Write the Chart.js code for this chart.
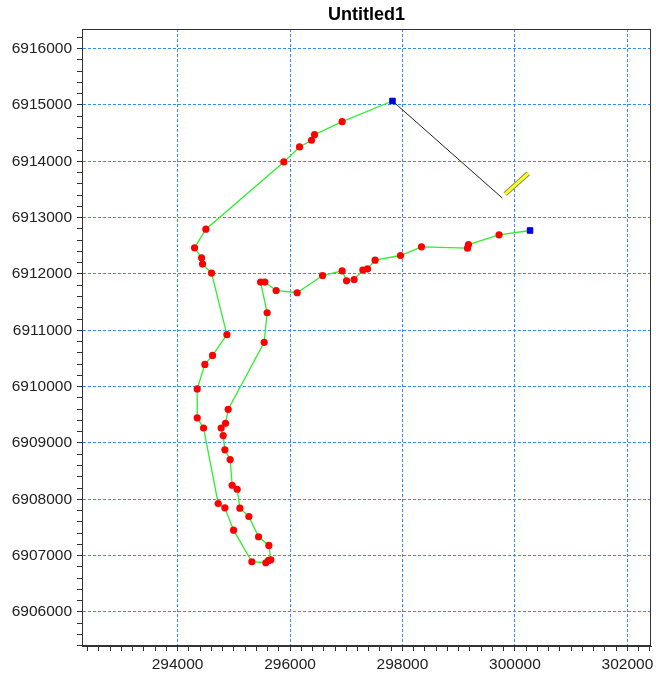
<!DOCTYPE html>
<html>
<head>
<meta charset="utf-8">
<script src="https://cdn.jsdelivr.net/npm/chart.js@4.4.0/dist/chart.umd.min.js"></script>
<style>
  html, body { margin: 0; padding: 0; background: #fff; }
  canvas { display: block; }
</style>
</head>
<body>
<canvas id="chart" width="656" height="673"></canvas>
<script>
// track (green line, red points, blue start/end)
const trackX = [
  297822, 296927, 296436, 296382, 296169, 295890, 294503, 294302, 294427, 294444,
  294604, 294877, 294622, 294485, 294349, 294349, 294462, 294722, 294841, 294996,
  295321, 295570, 295618, 295659, 295623, 295440, 295268, 295108, 295060, 294971,
  294935, 294841, 294811, 294775, 294853, 294900, 295540, 295593, 295476, 295552,
  295753, 296127, 296578, 296927, 297005, 297140, 297295, 297378, 297513, 297965,
  298338, 299156, 299174, 299718, 300269
];
const trackY = [
  6915071, 6914704, 6914473, 6914374, 6914255, 6913989, 6912796, 6912465, 6912287, 6912176,
  6912016, 6910922, 6910555, 6910395, 6909959, 6909444, 6909266, 6907926, 6907849, 6907452,
  6906892, 6906874, 6906915, 6906927, 6907181, 6907335, 6907695, 6907842, 6908179, 6908250,
  6908706, 6908878, 6909131, 6909266, 6909349, 6909597, 6910786, 6911312, 6911856, 6911856,
  6911707, 6911667, 6911973, 6912057, 6911879, 6911902, 6912069, 6912092, 6912246, 6912328,
  6912482, 6912459, 6912523, 6912695, 6912772
];

// black segment being drawn, and the pencil cursor at its end
const lineX = [297822, 299778];
const lineY = [6915071, 6913346];
const pencilX = [299828, 300236];
const pencilY = [6913420, 6913787];

const xMin = 292300, xMax = 302420;
const yMin = 6905396, yMax = 6916349;
const xLabelStep = 2000;
const yLabelStep = 1000;
const minorStep = 200;

const FONT = "'Liberation Sans', Arial, sans-serif";

const toPoints = (xs, ys) => xs.map((x, i) => ({ x: x, y: ys[i] }));
const isEnd = (c) => c.dataIndex === 0 || c.dataIndex === trackX.length - 1;

const frame = {
  id: "frame",
  afterDraw(chart) {
    const { ctx, chartArea: a } = chart;
    ctx.save();
    ctx.strokeStyle = "#333";
    ctx.lineWidth = 1;
    ctx.strokeRect(Math.round(a.left) + 0.5, Math.round(a.top) + 0.5,
      Math.round(a.right - a.left) - 1, Math.round(a.bottom - a.top) - 1);
    ctx.restore();
  }
};

const axis = (min, max, step, side) => ({
  type: "linear",
  position: side,
  min: min,
  max: max,
  afterFit: (s) => {
    if (side === "left") s.width = 82;
    else s.height = 27;
  },
  ticks: {
    stepSize: minorStep,
    includeBounds: false,
    autoSkip: false,
    maxRotation: 0,
    maxTicksLimit: 1000,
    padding: side === "left" ? 5 : 4,
    color: "#222",
    font: { family: FONT, size: 15.5 },
    callback: (v) => (Math.round(v) % step === 0 ? String(Math.round(v)) : "")
  },
  grid: {
    color: (c) => (c.tick && Math.round(c.tick.value) % step === 0 ? "#2f8fff" : "rgba(0,0,0,0)"),
    lineWidth: 1,
    tickColor: "#333",
    tickLength: 5
  },
  border: { color: "#333", width: 1, dash: [3, 2] }
});

const chart = new Chart(document.getElementById("chart"), {
  type: "scatter",
  data: {
    datasets: [
      {
        label: "track",
        data: toPoints(trackX, trackY),
        showLine: true,
        borderColor: "#2cf02c",
        borderWidth: 1.3,
        pointStyle: (c) => (isEnd(c) ? "rect" : "circle"),
        pointRadius: (c) => (isEnd(c) ? 3.9 : 3.6),
        pointBackgroundColor: (c) => (isEnd(c) ? "#0000ff" : "#ff0000"),
        pointBorderColor: (c) => (isEnd(c) ? "#0000a0" : "#ff0000"),
        pointBorderWidth: (c) => (isEnd(c) ? 1 : 0)
      },
      {
        label: "line",
        data: toPoints(lineX, lineY),
        showLine: true,
        borderColor: "#222",
        borderWidth: 1,
        pointRadius: 0
      },
      {
        label: "pencil",
        data: toPoints(pencilX, pencilY),
        showLine: true,
        borderColor: "#ffff20",
        borderWidth: 3,
        pointRadius: 0
      },
      {
        label: "pencil outline",
        data: toPoints(pencilX, pencilY),
        showLine: true,
        borderColor: "#8c8c50",
        borderWidth: 5,
        pointRadius: 0
      }
    ]
  },
  options: {
    responsive: false,
    animation: false,
    layout: { padding: { left: 0, right: 4, top: 0, bottom: 0 } },
    scales: {
      x: axis(xMin, xMax, xLabelStep, "bottom"),
      y: axis(yMin, yMax, yLabelStep, "left")
    },
    plugins: {
      legend: { display: false },
      tooltip: { enabled: false },
      title: {
        display: true,
        text: "Untitled1",
        fullSize: false,
        color: "#000",
        font: { family: FONT, size: 18, weight: "bold" },
        padding: { top: 4, bottom: 3.4 }
      }
    }
  },
  plugins: [frame]
});
</script>
</body>
</html>
